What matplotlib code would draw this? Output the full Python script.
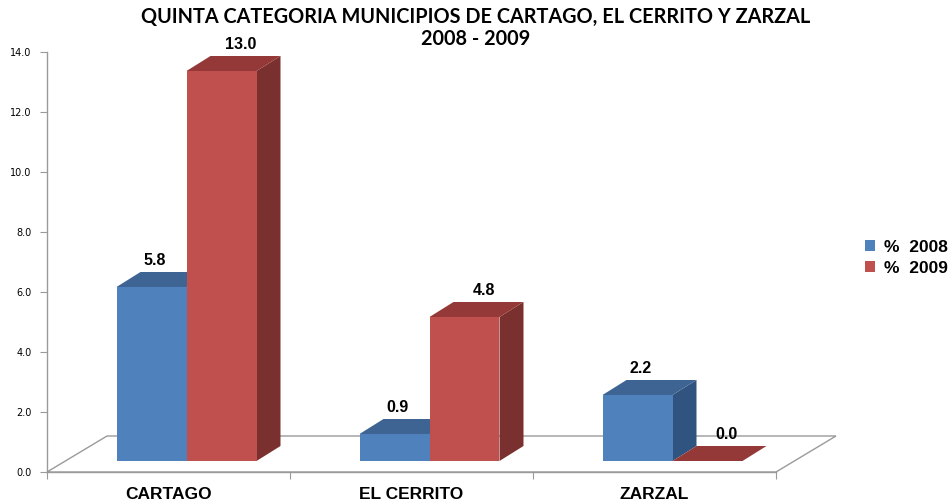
import matplotlib
matplotlib.use("Agg")
import matplotlib.pyplot as plt
from matplotlib.patches import Polygon, Patch

categories = ["CARTAGO", "EL CERRITO", "ZARZAL"]
series_names = ["%  2008", "%  2009"]
values_2008 = [5.8, 0.9, 2.2]
values_2009 = [13.0, 4.8, 0.0]
yticks = [0, 2, 4, 6, 8, 10, 12, 14]
title_line1 = "QUINTA CATEGORIA MUNICIPIOS DE CARTAGO, EL CERRITO Y ZARZAL"
title_line2 = "2008 - 2009"

W, H = 952, 504
fig = plt.figure(figsize=(W / 100, H / 100), dpi=100)
ax = fig.add_axes([47 / W, (H - 472) / H, 729 / W, 420 / H])
ax.set_xlim(-0.5, 2.5)
ax.set_ylim(0, 14)

GRAY = "#9a9a9a"
for s in ["top", "right"]:
    ax.spines[s].set_visible(False)
for s in ["left", "bottom"]:
    ax.spines[s].set_color(GRAY)
    ax.spines[s].set_linewidth(1.0)
    ax.spines[s].set_zorder(6)

ax.set_yticks(yticks)
ax.set_yticklabels([f"{t:.1f}" for t in yticks], fontsize=7, family="DejaVu Sans")
ax.tick_params(axis="y", length=5, color=GRAY, pad=6)
ax.set_xticks([-0.5, 0.5, 1.5, 2.5])
ax.set_xticklabels([])
ax.tick_params(axis="x", which="major", length=5, color=GRAY)
ax.set_xticks(range(len(categories)), minor=True)
ax.set_xticklabels(categories, minor=True, fontsize=12.5, fontweight="bold",
                   family="Liberation Sans")
ax.tick_params(axis="x", which="minor", length=0, pad=11)

inv = ax.transData.inverted()


def px(dx, dy):
    p0 = inv.transform((0, 0))
    p1 = inv.transform((dx, dy))
    return p1[0] - p0[0], p1[1] - p0[1]


# floor
fx, fy = px(60, 36)
x0, x1 = ax.get_xlim()
floor = Polygon([(x0, 0), (x1, 0), (x1 + fx, fy), (x0 + fx, fy)], closed=True,
                facecolor="white", edgecolor=GRAY, lw=1.0, clip_on=False, zorder=1)
ax.add_patch(floor)

bx, by = px(18, 11)
w, _ = px(70, 0)
dx, dy = px(24, 15)
gx, gy = px(0, 4)

styles = [
    dict(front="#4F81BD", top="#3D6492", side="#30547F", lab=3),
    dict(front="#C0504D", top="#943937", side="#7A302E", lab=19),
]
series = [values_2008, values_2009]

for s, (vals, st) in enumerate(zip(series, styles)):
    z = 2 + 2 * s
    for i, v in enumerate(vals):
        left = i + bx - w + s * w
        ax.bar(left, v, width=w, bottom=by, align="edge", color=st["front"],
               zorder=z + 1, clip_on=False)
        top = Polygon([(left, by + v), (left + w, by + v),
                       (left + w + dx, by + v + dy), (left + dx, by + v + dy)],
                      closed=True, facecolor=st["top"], edgecolor="none",
                      zorder=z, clip_on=False)
        side = Polygon([(left + w, by), (left + w + dx, by + dy),
                        (left + w + dx, by + v + dy), (left + w, by + v)],
                       closed=True, facecolor=st["side"], edgecolor="none",
                       zorder=z, clip_on=False)
        ax.add_patch(side)
        ax.add_patch(top)
        lx, _ = px(st["lab"], 0)
        ax.text(left + w / 2 + lx, by + v + dy + gy, f"{v:.1f}", ha="center",
                va="bottom", fontsize=11.5, fontweight="bold",
                family="Liberation Sans", zorder=10)

fig.text(476 / W, 1 - 17 / H, title_line1, ha="center", va="center",
         fontsize=14.3, fontweight="bold", family="Lato")
fig.text(476 / W, 1 - 39 / H, title_line2, ha="center", va="center",
         fontsize=14.3, fontweight="bold", family="Lato")

handles = [Patch(facecolor=styles[0]["front"]), Patch(facecolor=styles[1]["front"])]
fig.legend(handles, series_names, loc="center left",
           bbox_to_anchor=(858 / W, 1 - 258 / H), frameon=False,
           prop=dict(family="Liberation Sans", weight="bold", size=12.5),
           handlelength=0.6, handleheight=0.6, handletextpad=0.5,
           labelspacing=0.35, borderaxespad=0)

fig.savefig("out.png", dpi=100)
